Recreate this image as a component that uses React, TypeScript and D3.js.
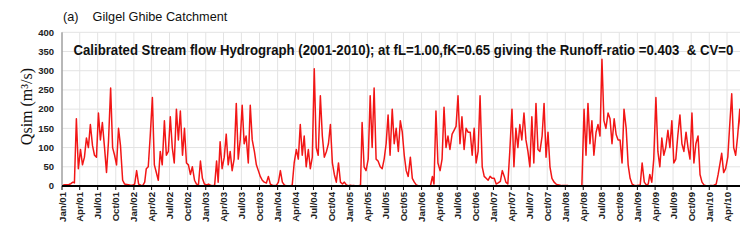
import React, { useLayoutEffect, useRef, useState } from "react";
import * as d3 from "d3";

// Dekadal simulated streamflow (m3/s), 36 values per year (3 per month)
const years = [2001, 2002, 2003, 2004, 2005, 2006, 2007, 2008, 2009, 2010];
const q2001 = [2,3,3,4,6,10,8,175,45,95,55,75,125,100,160,105,80,75,190,120,165,100,35,115,255,100,80,55,150,105,15,5,4,3,2,2];
const q2002 = [5,40,5,2,1,10,45,50,130,230,55,35,15,90,55,170,80,90,180,100,60,200,120,195,80,150,60,55,30,50,15,5,3,65,20,5];
const q2003 = [3,5,2,1,1,65,10,115,45,75,135,55,90,40,70,215,70,120,210,110,130,60,210,120,90,55,40,25,15,10,8,25,5,2,1,1];
const q2004 = [10,40,10,2,1,0,1,2,60,95,70,160,80,130,50,95,45,75,305,100,80,235,130,75,90,110,160,60,30,10,60,10,5,10,3,1];
const q2005 = [2,1,1,0,1,2,165,50,40,70,235,100,255,70,65,50,45,70,110,185,80,200,110,150,90,170,140,80,40,25,75,20,10,3,1,0];
const q2006 = [1,0,0,0,0,25,5,195,60,40,70,205,100,130,95,135,145,155,235,110,180,95,150,140,140,80,150,60,90,235,50,25,20,15,25,20];
const q2007 = [20,5,8,12,40,25,10,5,90,200,50,150,100,160,120,190,120,90,50,180,60,215,95,90,130,215,75,140,50,20,10,5,3,2,1,1];
const q2008 = [1,1,0,0,0,0,0,0,0,200,80,215,110,170,80,140,160,130,330,170,150,190,175,110,175,134,120,120,60,200,150,55,20,5,2,1];
const q2009 = [2,1,60,10,3,5,30,10,70,230,90,50,125,80,100,145,100,170,60,70,130,185,110,90,140,100,70,190,60,110,130,30,10,3,1,0];
const q2010 = [1,1,2,5,30,60,85,35,45,75,160,240,100,80,130,200,90];
const yearly = [q2001, q2002, q2003, q2004, q2005, q2006, q2007, q2008, q2009, q2010];

const yTicks = [0, 50, 100, 150, 200, 250, 300, 350, 400];
const titleTop = "(a)    Gilgel Ghibe Catchment";
const titleMain =
  "Calibrated Stream flow Hydrograph (2001-2010); at fL=1.00,fK=0.65 giving the Runoff-ratio =0.403  & CV=0";
const yLabel = "Qsim (m\u00B3/s)";

const series: { date: Date; q: number }[] = [];
years.forEach((yr, yi) => {
  yearly[yi].forEach((q, i) => {
    const m = Math.floor(i / 3);
    const day = [5, 15, 25][i % 3];
    series.push({ date: new Date(yr, m, day), q });
  });
});

export default function App() {
  const W = 740;
  const H = 240;
  const titleRef = useRef<SVGTextElement>(null);
  const [sx, setSx] = useState(0.7);
  useLayoutEffect(() => {
    if (titleRef.current) {
      const len = titleRef.current.getComputedTextLength();
      if (len > 0) setSx(660 / len);
    }
  }, []);

  const x = d3
    .scaleTime()
    .domain([new Date(2001, 0, 1), new Date(2010, 3, 1)])
    .range([62, 727]);
  const y = d3.scaleLinear().domain([0, 400]).range([186, 32.3]);
  const xTicks = d3.timeMonth
    .every(3)!
    .range(new Date(2001, 0, 1), new Date(2010, 6, 1))
    .filter((d) => x(d) <= W + 2);
  const fmt = d3.timeFormat("%b/%y");
  const line = d3
    .line<{ date: Date; q: number }>()
    .x((d) => x(d.date))
    .y((d) => y(d.q))
    .curve(d3.curveLinear);

  return (
    <svg
      width={W}
      height={H}
      style={{ position: "absolute", left: 0, top: 0, background: "#fff" }}
    >
      <rect x={0} y={0} width={W} height={H} fill="#fff" />
      {/* grid */}
      {yTicks.map((t) => (
        <line key={"gy" + t} x1={62} x2={W} y1={y(t)} y2={y(t)} stroke="#e3e3e3" strokeWidth={1} />
      ))}
      {xTicks.map((d, i) => (
        <line key={"gx" + i} x1={x(d)} x2={x(d)} y1={y(400)} y2={y(0)} stroke="#e3e3e3" strokeWidth={1} />
      ))}
      {/* data */}
      <path d={line(series) || ""} fill="none" stroke="#f21616" strokeWidth={1.5} strokeLinejoin="round" />
      {/* axes */}
      <line x1={62} x2={62} y1={y(400)} y2={y(0)} stroke="#7f7f7f" strokeWidth={1} />
      <line x1={62} x2={W} y1={y(0)} y2={y(0)} stroke="#000" strokeWidth={2} />
      {xTicks.map((d, i) => (
        <line key={"tx" + i} x1={x(d)} x2={x(d)} y1={y(0)} y2={y(0) + 4} stroke="#000" strokeWidth={1} />
      ))}
      {yTicks.map((t) => (
        <text
          key={"ly" + t}
          x={54}
          y={y(t)}
          dy="0.35em"
          textAnchor="end"
          fontFamily="Liberation Sans, Arial, sans-serif"
          fontWeight="bold"
          fontSize={9.5}
          fill="#222"
        >
          {t}
        </text>
      ))}
      {xTicks.map((d, i) => (
        <text
          key={"lx" + i}
          transform={`translate(${x(d) + 3.5},192) rotate(-90)`}
          textAnchor="end"
          fontFamily="Liberation Sans, Arial, sans-serif"
          fontWeight="bold"
          fontSize={9.6}
          fill="#222"
        >
          {fmt(d)}
        </text>
      ))}
      <text
        transform={`translate(32,106.5) rotate(-90)`}
        textAnchor="middle"
        fontFamily="Liberation Serif, Times New Roman, serif"
        fontSize={16}
        fill="#111"
      >
        {yLabel}
      </text>
      <text
        x={63}
        y={20.5}
        fontFamily="Liberation Sans, Arial, sans-serif"
        fontSize={12.7}
        fill="#111"
        style={{ whiteSpace: "pre" }}
      >
        {titleTop}
      </text>
      <text
        ref={titleRef}
        transform={`translate(73.5,54.5) scale(${sx},1)`}
        x={0}
        y={0}
        fontFamily="Liberation Sans, Arial, sans-serif"
        fontWeight="bold"
        fontSize={15}
        fill="#111"
        style={{ whiteSpace: "pre" }}
      >
        {titleMain}
      </text>
    </svg>
  );
}
